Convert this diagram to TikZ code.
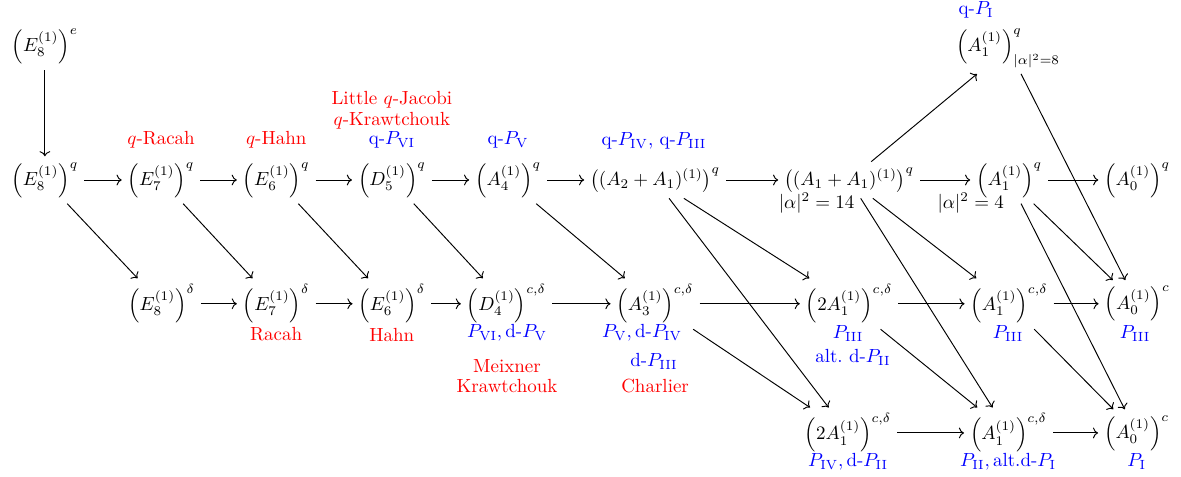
\documentclass[tikz,border=0pt]{standalone}
\usepackage{amsmath, amssymb}
\usepackage{tikz}
\usetikzlibrary{arrows.meta, positioning}

\tikzset{
  alg/.style={inner sep=3pt},
  qpoly/.style={red, inner sep=1pt},
  painl/.style={blue, inner sep=1pt},
  note/.style={inner sep=1pt},
  arr/.style={-{Computer Modern Rightarrow}, line width=0.5pt},
}

\begin{document}
\begin{tikzpicture}
  \useasboundingbox (0,0) rectangle (21.85,8.82);

  % top row
  \node[alg] (e8e) at (0.83,7.96) {$\left(E_8^{(1)}\right)^e$};
  \node[alg] (a1top) at (18.65,7.93) {$\left(A_1^{(1)}\right)^q_{|\alpha|^2=8}$};

  % q-row
  \node[alg] (e8q) at (0.83,5.49) {$\left(E_8^{(1)}\right)^q$};
  \node[alg] (e7q) at (2.98,5.49) {$\left(E_7^{(1)}\right)^q$};
  \node[alg] (e6q) at (5.11,5.49) {$\left(E_6^{(1)}\right)^q$};
  \node[alg] (d5q) at (7.25,5.49) {$\left(D_5^{(1)}\right)^q$};
  \node[alg] (a4q) at (9.40,5.49) {$\left(A_4^{(1)}\right)^q$};
  \node[alg] (aa21q) at (12.12,5.49) {$\left((A_2+A_1)^{(1)}\right)^q$};
  \node[alg] (aa11q) at (15.71,5.49) {$\left((A_1+A_1)^{(1)}\right)^q$};
  \node[alg] (a1q) at (18.67,5.49) {$\left(A_1^{(1)}\right)^q$};
  \node[alg] (a0q) at (21.04,5.49) {$\left(A_0^{(1)}\right)^q$};

  % d-row
  \node[alg] (e8d) at (2.99,3.20) {$\left(E_8^{(1)}\right)^\delta$};
  \node[alg] (e7d) at (5.11,3.20) {$\left(E_7^{(1)}\right)^\delta$};
  \node[alg] (e6d) at (7.25,3.20) {$\left(E_6^{(1)}\right)^\delta$};
  \node[alg] (d4cd) at (9.37,3.20) {$\left(D_4^{(1)}\right)^{c,\delta}$};
  \node[alg] (a3cd) at (12.12,3.20) {$\left(A_3^{(1)}\right)^{c,\delta}$};
  \node[alg] (twoa1cd) at (15.71,3.20) {$\left(2A_1^{(1)}\right)^{c,\delta}$};
  \node[alg] (a1cd) at (18.67,3.20) {$\left(A_1^{(1)}\right)^{c,\delta}$};
  \node[alg] (a0c) at (21.04,3.20) {$\left(A_0^{(1)}\right)^c$};

  % bottom row
  \node[alg] (twoa1cdb) at (15.69,0.81) {$\left(2A_1^{(1)}\right)^{c,\delta}$};
  \node[alg] (a1cdb) at (18.66,0.81) {$\left(A_1^{(1)}\right)^{c,\delta}$};
  \node[alg] (a0cb) at (21.03,0.81) {$\left(A_0^{(1)}\right)^c$};

  % labels above
  \node[painl] (qpi) at (18.06,8.64) {q-$P_{\mathrm{I}}$};
  \node[qpoly] (qracah) at (2.98,6.24) {$q$-Racah};
  \node[qpoly] (qhahn) at (5.11,6.24) {$q$-Hahn};
  \node[qpoly] (ljacobi) at (7.25,6.98) {Little $q$-Jacobi};
  \node[qpoly] (qkraw) at (7.25,6.58) {$q$-Krawtchouk};
  \node[painl] (qpvi) at (7.25,6.23) {q-$P_{\mathrm{VI}}$};
  \node[painl] (qpv) at (9.40,6.23) {q-$P_{\mathrm{V}}$};
  \node[painl] (qpiv) at (12.10,6.21) {q-$P_{\mathrm{IV}}$, q-$P_{\mathrm{III}}$};
  \node[note] (alpha14) at (15.11,5.07) {$|\alpha|^2=14$};
  \node[note] (alpha4) at (17.96,5.07) {$|\alpha|^2=4$};

  % labels below
  \node[qpoly] (racah) at (5.11,2.63) {Racah};
  \node[qpoly] (hahn) at (7.25,2.63) {Hahn};
  \node[painl] (pvi) at (9.38,2.66) {$P_{\mathrm{VI}},\text{d-}P_{\mathrm{V}}$};
  \node[qpoly] (meixner) at (9.38,2.04) {Meixner};
  \node[qpoly] (kraw) at (9.38,1.68) {Krawtchouk};
  \node[painl] (pv) at (11.88,2.66) {$P_{\mathrm{V}},\text{d-}P_{\mathrm{IV}}$};
  \node[painl] (dpiii) at (12.10,2.13) {d-$P_{\mathrm{III}}$};
  \node[qpoly] (charlier) at (12.12,1.68) {Charlier};
  \node[painl] (piiia) at (15.69,2.65) {$P_{\mathrm{III}}$};
  \node[painl] (altdpii) at (15.78,2.20) {alt.\ d-$P_{\mathrm{II}}$};
  \node[painl] (piiib) at (18.65,2.65) {$P_{\mathrm{III}}$};
  \node[painl] (piiic) at (21.00,2.65) {$P_{\mathrm{III}}$};
  \node[painl] (piv) at (15.69,0.28) {$P_{\mathrm{IV}},\text{d-}P_{\mathrm{II}}$};
  \node[painl] (pii) at (18.65,0.28) {$P_{\mathrm{II}},\text{alt.d-}P_{\mathrm{I}}$};
  \node[painl] (pi) at (21.03,0.28) {$P_{\mathrm{I}}$};

  % arrows
  \foreach \s/\t in {e8e/e8q, e8q/e7q, e7q/e6q, e6q/d5q, d5q/a4q, a4q/aa21q,
                     aa21q/aa11q, aa11q/a1q, a1q/a0q,
                     e8q/e8d, e7q/e7d, e6q/e6d, d5q/d4cd, a4q/a3cd,
                     aa21q/twoa1cd, aa21q/twoa1cdb, aa11q/a1cd, aa11q/a1cdb,
                     aa11q/a1top, a1q/a0c, a1q/a0cb, a1top/a0c,
                     e8d/e7d, e7d/e6d, e6d/d4cd, d4cd/a3cd, a3cd/twoa1cd,
                     twoa1cd/a1cd, a1cd/a0c,
                     a3cd/twoa1cdb, twoa1cd/a1cdb, a1cd/a0cb,
                     twoa1cdb/a1cdb, a1cdb/a0cb} {
    \draw[arr] (\s) -- (\t);
  }
\end{tikzpicture}
\end{document}
